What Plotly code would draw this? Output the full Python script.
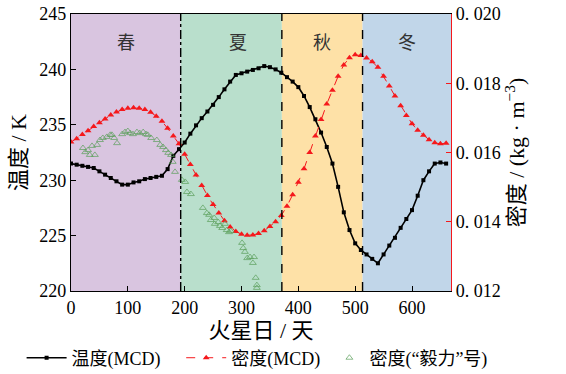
import plotly.graph_objects as go

# ---------------- data ----------------
sols = list(range(0, 670, 10))
temp_mcd = [231.5, 231.4, 231.3, 231.2, 231.1, 230.8, 230.5, 230.2, 229.9, 229.6,
            229.6, 229.8, 229.9, 230.1, 230.2, 230.3, 230.4, 231.0, 232.2, 232.8,
            233.4, 234.2, 234.95, 235.6, 236.2, 236.8, 237.5, 238.2, 238.9, 239.5,
            239.65, 239.8, 239.95, 240.1, 240.3, 240.2, 240.0, 239.7, 239.3, 238.9,
            238.4, 237.6, 236.6, 235.5, 234.3, 233.0, 231.5, 229.4, 227.1, 225.5,
            224.3, 223.7, 223.3, 222.9, 222.5, 223.3, 224.1, 224.8, 225.7, 226.5,
            227.3, 228.6, 230.0, 230.8, 231.5, 231.6, 231.5]
rho_mcd = [0.01630, 0.01640, 0.01652, 0.01663, 0.01675, 0.01686, 0.01697, 0.01708, 0.01717, 0.01724,
           0.01728, 0.01729, 0.01728, 0.01724, 0.01716, 0.01705, 0.01690, 0.01670, 0.01648, 0.01625,
           0.01595, 0.01565, 0.01535, 0.01505, 0.01476, 0.01450, 0.01425, 0.01403, 0.01385, 0.01372,
           0.01364, 0.01361, 0.01362, 0.01366, 0.01374, 0.01386, 0.01400, 0.01418, 0.01445, 0.01478,
           0.01514, 0.01553, 0.01600, 0.01648, 0.01695, 0.01740, 0.01780, 0.01820, 0.01853, 0.01874,
           0.01882, 0.01880, 0.01873, 0.01862, 0.01846, 0.01820, 0.01792, 0.01763, 0.01735, 0.01707,
           0.01683, 0.01664, 0.01650, 0.01637, 0.01628, 0.01625, 0.01627]

obs_sols = [21, 25, 30, 33, 42, 37, 46, 51, 56, 63, 69, 72, 76, 81, 90, 95, 100, 104, 109, 116,
            121, 127, 132, 135, 141, 151, 157, 162, 167, 171, 176, 179, 183, 195, 201, 204, 211,
            232, 239, 243, 246, 252, 253, 259, 262, 266, 271, 274, 278, 281, 301, 303, 306, 310,
            315, 322, 320, 325, 327, 327]
obs_rho = [0.01613, 0.01601, 0.01607, 0.01593, 0.01593, 0.01619, 0.01622, 0.01636, 0.01642, 0.01645,
           0.01651, 0.01651, 0.01642, 0.01627, 0.01653, 0.01659, 0.01662, 0.01656, 0.01653, 0.01659,
           0.01656, 0.01659, 0.01653, 0.01651, 0.01642, 0.01636, 0.01622, 0.01616, 0.01607, 0.01599,
           0.01593, 0.01573, 0.01544, 0.01521, 0.01515, 0.01486, 0.01480,
           0.01440, 0.01425, 0.01420, 0.01405, 0.01411, 0.01394, 0.01399, 0.01388, 0.01382, 0.01394,
           0.01376, 0.01370, 0.01373, 0.01339, 0.01324, 0.01313, 0.01295,
           0.01298, 0.01298, 0.01281, 0.01238, 0.01217, 0.01209]

season_names = ["春", "夏", "秋", "冬"]
season_bounds = [0, 193, 371, 513, 668.6]
season_label_sols = [97, 294, 442, 591]
season_colors = ["#d9c5e0", "#b9dfcc", "#fee1a7", "#c1d6e9"]
divider_dash = ["dashdot", "dash", "dash"]

x_ticks = [0, 100, 200, 300, 400, 500, 600]
y_ticks = [220, 225, 230, 235, 240, 245]
y2_ticks = [0.012, 0.014, 0.016, 0.018, 0.020]
y2_ticktext = ["0. 012", "0. 014", "0. 016", "0. 018", "0. 020"]

FONT = "Liberation Serif, Noto Sans CJK SC, serif"
RED = "#f5181c"
GREEN = "#5a9e5a"

fig = go.Figure()

fig.add_trace(go.Scatter(
    x=sols, y=temp_mcd, name="温度(MCD)", mode="lines+markers", legend="legend",
    line=dict(color="black", width=1.6),
    marker=dict(symbol="square", size=4, color="black"),
))
fig.add_trace(go.Scatter(
    x=sols, y=rho_mcd, name="密度(MCD)", mode="lines+markers", yaxis="y2", legend="legend2",
    line=dict(color=RED, width=1, dash="dash"),
    marker=dict(symbol="triangle-up", size=6, color=RED),
))
fig.add_trace(go.Scatter(
    x=obs_sols, y=obs_rho, name="密度(“毅力”号)", mode="markers", yaxis="y2", legend="legend3",
    marker=dict(symbol="triangle-up-open", size=6, color=GREEN, opacity=0.7,
                line=dict(width=1)),
))

shapes = []
annotations = []
for i, name in enumerate(season_names):
    shapes.append(dict(type="rect", xref="x", yref="paper",
                       x0=season_bounds[i], x1=season_bounds[i + 1], y0=0, y1=1,
                       fillcolor=season_colors[i], line=dict(width=0), layer="below"))
    annotations.append(dict(x=season_label_sols[i], y=0.94, xref="x", yref="paper",
                            text=name, showarrow=False,
                            font=dict(family=FONT, size=18, color="#333333")))
for i, b in enumerate(season_bounds[1:-1]):
    shapes.append(dict(type="line", xref="x", yref="paper", x0=b, x1=b, y0=0, y1=1,
                       line=dict(color="black", width=1.4, dash=divider_dash[i]),
                       layer="above"))

legend_common = dict(orientation="h", y=-0.242, yanchor="middle", xanchor="left",
                     font=dict(family=FONT, size=18), bgcolor="rgba(0,0,0,0)",
                     borderwidth=0)

fig.update_layout(
    width=566, height=374,
    margin=dict(l=71, r=115, t=14, b=83, autoexpand=False),
    paper_bgcolor="white", plot_bgcolor="white",
    font=dict(family=FONT, size=18, color="black"),
    shapes=shapes, annotations=annotations,
    xaxis=dict(range=[0, 668.6], tickvals=x_ticks, ticks="inside", ticklen=5,
               tickcolor="black", showline=True, linecolor="black", linewidth=1.2,
               mirror=True, showgrid=False, zeroline=False, automargin=False,
               title=dict(text="火星日 / 天", standoff=4),
               tickfont=dict(family=FONT, size=18)),
    yaxis=dict(range=[220, 245], tickvals=y_ticks, ticks="inside", ticklen=5,
               tickcolor="black", showline=True, linecolor="black", linewidth=1.2,
               showgrid=False, zeroline=False, automargin=False,
               title=dict(text="温度 / K", standoff=6),
               tickfont=dict(family=FONT, size=18)),
    yaxis2=dict(range=[0.012, 0.020], tickvals=y2_ticks, ticktext=y2_ticktext,
                overlaying="y", side="right", ticks="inside", ticklen=5,
                tickcolor=RED, showline=True, linecolor=RED, linewidth=1.2,
                showgrid=False, zeroline=False, automargin=False,
                title=dict(text="密度 / (kg · m<sup>−3</sup>)", standoff=3),
                tickfont=dict(family=FONT, size=18)),
    legend=dict(x=-0.13, itemwidth=40, **legend_common),
    legend2=dict(x=0.29, itemwidth=40, **legend_common),
    legend3=dict(x=0.68, itemwidth=30, **legend_common),
    showlegend=True,
)

fig.write_html("out.html", config={"displayModeBar": False})
